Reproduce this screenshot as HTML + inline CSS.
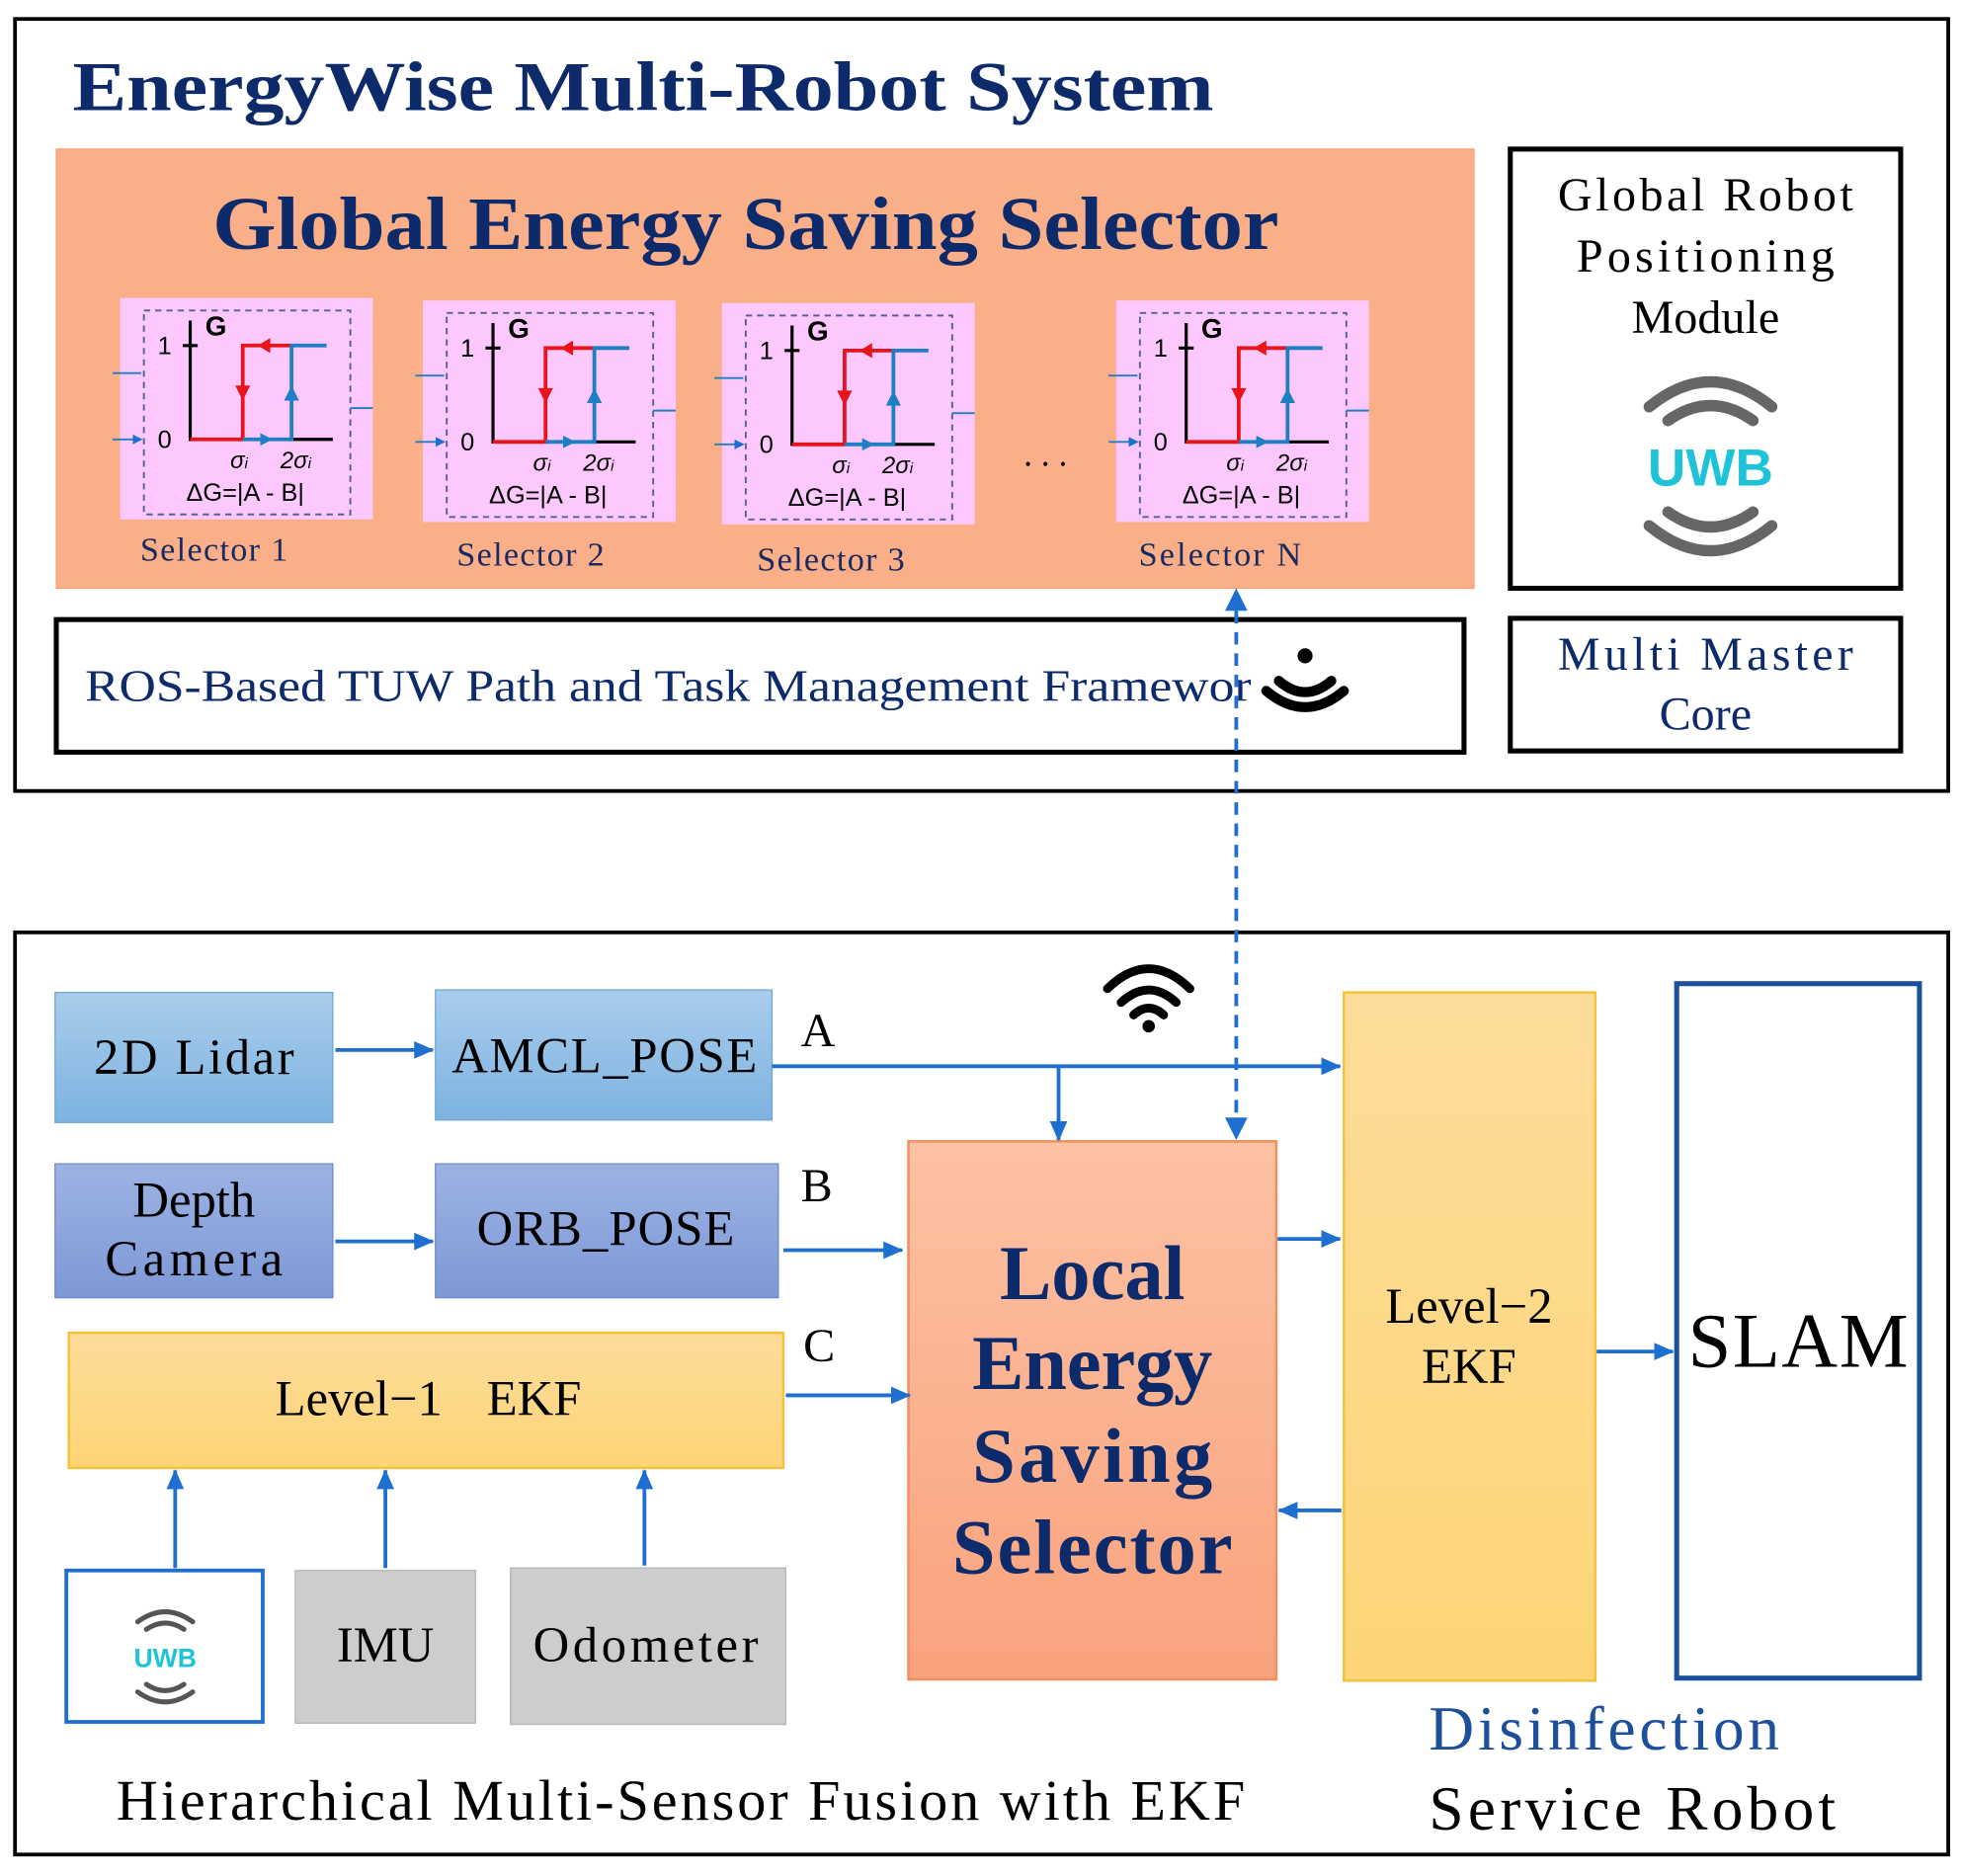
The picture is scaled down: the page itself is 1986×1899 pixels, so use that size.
<!DOCTYPE html>
<html><head><meta charset="utf-8"><style>html,body{margin:0;padding:0;background:#fff}svg{display:block}</style></head><body>
<svg width="1986" height="1899" viewBox="0 0 1568 1499" xmlns="http://www.w3.org/2000/svg" font-family="Liberation Serif, serif">
<defs>
<marker id="ab" markerWidth="8" markerHeight="8" refX="7" refY="4" orient="auto" markerUnits="userSpaceOnUse"><path d="M0,0 L8,4 L0,8 z" fill="#1f6fd0"/></marker>
<marker id="ab2" markerWidth="16" markerHeight="14" refX="15" refY="7" orient="auto" markerUnits="userSpaceOnUse"><path d="M0,0 L16,7 L0,14 z" fill="#1f6fd0"/></marker>
<linearGradient id="gl" x1="0" y1="0" x2="0" y2="1"><stop offset="0" stop-color="#a9cdec"/><stop offset="1" stop-color="#7db2e0"/></linearGradient>
<linearGradient id="gd" x1="0" y1="0" x2="0" y2="1"><stop offset="0" stop-color="#9db3e3"/><stop offset="1" stop-color="#7d98d6"/></linearGradient>
<linearGradient id="gy" x1="0" y1="0" x2="0" y2="1"><stop offset="0" stop-color="#fddc9a"/><stop offset="1" stop-color="#fdd577"/></linearGradient>
<linearGradient id="go" x1="0" y1="0" x2="0" y2="1"><stop offset="0" stop-color="#fdc1a3"/><stop offset="1" stop-color="#f9a27d"/></linearGradient>
</defs>
<rect x="12" y="15" width="1545" height="617" fill="none" stroke="#000" stroke-width="3"/>
<text x="58" y="88" font-size="56" font-weight="bold" fill="#0d2a6b" textLength="912" lengthAdjust="spacingAndGlyphs">EnergyWise Multi-Robot System</text>
<rect x="45" y="119" width="1133" height="351" fill="#fbaf88" stroke="#f6a273"/>
<text x="170" y="199" font-size="60" font-weight="bold" fill="#0d2a6b" textLength="852" lengthAdjust="spacingAndGlyphs">Global Energy Saving Selector</text>

<g font-family="Liberation Sans, sans-serif">
<g transform="translate(96,238)">
<rect width="202" height="177" fill="#fdc8fd"/><rect x="19" y="10" width="165" height="163" fill="none" stroke="#55609a" stroke-width="1.5" stroke-dasharray="5,4"/>
<path d="M56,18 V113 H170 M50,38 H62" stroke="#000" stroke-width="2.5" fill="none"/>
<path d="M56,113 H98 V38 H137" stroke="#e8141c" stroke-width="3" fill="none"/>
<path d="M98,113 H137 V38 H165" stroke="#1f7fc4" stroke-width="3" fill="none"/>
<path d="M92,70 L98,82 L104,70z M120,32 L110,38 L120,44z" fill="#e8141c"/><path d="M112,108 L122,113 L112,118z M131,82 L137,70 L143,82z" fill="#1f7fc4"/>
<text x="30" y="45" font-size="20">1</text><text x="68" y="30" font-size="22" font-weight="bold">G</text><text x="30" y="120" font-size="20">0</text>
<text x="88" y="136" font-size="19" font-style="italic">σ<tspan font-size="12">i</tspan></text><text x="128" y="136" font-size="19" font-style="italic">2σ<tspan font-size="12">i</tspan></text>
<text x="100" y="162" font-size="20" text-anchor="middle">ΔG=|A - B|</text>
<path d="M-6,60 H17 M-6,113 H17" stroke="#1f7fc4" stroke-width="1.5" marker-end="url(#ab)"/><path d="M184,88 H202" stroke="#1f7fc4" stroke-width="1.5"/>
</g>
<g transform="translate(338,240)">
<rect width="202" height="177" fill="#fdc8fd"/><rect x="19" y="10" width="165" height="163" fill="none" stroke="#55609a" stroke-width="1.5" stroke-dasharray="5,4"/>
<path d="M56,18 V113 H170 M50,38 H62" stroke="#000" stroke-width="2.5" fill="none"/>
<path d="M56,113 H98 V38 H137" stroke="#e8141c" stroke-width="3" fill="none"/>
<path d="M98,113 H137 V38 H165" stroke="#1f7fc4" stroke-width="3" fill="none"/>
<path d="M92,70 L98,82 L104,70z M120,32 L110,38 L120,44z" fill="#e8141c"/><path d="M112,108 L122,113 L112,118z M131,82 L137,70 L143,82z" fill="#1f7fc4"/>
<text x="30" y="45" font-size="20">1</text><text x="68" y="30" font-size="22" font-weight="bold">G</text><text x="30" y="120" font-size="20">0</text>
<text x="88" y="136" font-size="19" font-style="italic">σ<tspan font-size="12">i</tspan></text><text x="128" y="136" font-size="19" font-style="italic">2σ<tspan font-size="12">i</tspan></text>
<text x="100" y="162" font-size="20" text-anchor="middle">ΔG=|A - B|</text>
<path d="M-6,60 H17 M-6,113 H17" stroke="#1f7fc4" stroke-width="1.5" marker-end="url(#ab)"/><path d="M184,88 H202" stroke="#1f7fc4" stroke-width="1.5"/>
</g>
<g transform="translate(577,242)">
<rect width="202" height="177" fill="#fdc8fd"/><rect x="19" y="10" width="165" height="163" fill="none" stroke="#55609a" stroke-width="1.5" stroke-dasharray="5,4"/>
<path d="M56,18 V113 H170 M50,38 H62" stroke="#000" stroke-width="2.5" fill="none"/>
<path d="M56,113 H98 V38 H137" stroke="#e8141c" stroke-width="3" fill="none"/>
<path d="M98,113 H137 V38 H165" stroke="#1f7fc4" stroke-width="3" fill="none"/>
<path d="M92,70 L98,82 L104,70z M120,32 L110,38 L120,44z" fill="#e8141c"/><path d="M112,108 L122,113 L112,118z M131,82 L137,70 L143,82z" fill="#1f7fc4"/>
<text x="30" y="45" font-size="20">1</text><text x="68" y="30" font-size="22" font-weight="bold">G</text><text x="30" y="120" font-size="20">0</text>
<text x="88" y="136" font-size="19" font-style="italic">σ<tspan font-size="12">i</tspan></text><text x="128" y="136" font-size="19" font-style="italic">2σ<tspan font-size="12">i</tspan></text>
<text x="100" y="162" font-size="20" text-anchor="middle">ΔG=|A - B|</text>
<path d="M-6,60 H17 M-6,113 H17" stroke="#1f7fc4" stroke-width="1.5" marker-end="url(#ab)"/><path d="M184,88 H202" stroke="#1f7fc4" stroke-width="1.5"/>
</g>
<g transform="translate(892,240)">
<rect width="202" height="177" fill="#fdc8fd"/><rect x="19" y="10" width="165" height="163" fill="none" stroke="#55609a" stroke-width="1.5" stroke-dasharray="5,4"/>
<path d="M56,18 V113 H170 M50,38 H62" stroke="#000" stroke-width="2.5" fill="none"/>
<path d="M56,113 H98 V38 H137" stroke="#e8141c" stroke-width="3" fill="none"/>
<path d="M98,113 H137 V38 H165" stroke="#1f7fc4" stroke-width="3" fill="none"/>
<path d="M92,70 L98,82 L104,70z M120,32 L110,38 L120,44z" fill="#e8141c"/><path d="M112,108 L122,113 L112,118z M131,82 L137,70 L143,82z" fill="#1f7fc4"/>
<text x="30" y="45" font-size="20">1</text><text x="68" y="30" font-size="22" font-weight="bold">G</text><text x="30" y="120" font-size="20">0</text>
<text x="88" y="136" font-size="19" font-style="italic">σ<tspan font-size="12">i</tspan></text><text x="128" y="136" font-size="19" font-style="italic">2σ<tspan font-size="12">i</tspan></text>
<text x="100" y="162" font-size="20" text-anchor="middle">ΔG=|A - B|</text>
<path d="M-6,60 H17 M-6,113 H17" stroke="#1f7fc4" stroke-width="1.5" marker-end="url(#ab)"/><path d="M184,88 H202" stroke="#1f7fc4" stroke-width="1.5"/>
</g>
</g>
<g font-size="27" fill="#1a2a60">
<text x="112" y="448" textLength="118">Selector 1</text><text x="365" y="452" textLength="118">Selector 2</text><text x="605" y="456" textLength="118">Selector 3</text><text x="910" y="452" textLength="130">Selector N</text>
</g>
<text x="818" y="372" font-size="28">. . .</text>

<rect x="1207" y="119" width="312" height="351" fill="#fff" stroke="#000" stroke-width="4"/>
<g font-size="38" fill="#000" text-anchor="middle"><text x="1363" y="168" textLength="236">Global Robot</text><text x="1363" y="217" textLength="206">Positioning</text><text x="1363" y="266">Module</text></g>
<path d="M1318,325 Q1367,285 1416,325 M1333,336 Q1367,312 1401,336" stroke="#666" stroke-width="9" fill="none" stroke-linecap="round"/>
<path d="M1318,420 Q1367,460 1416,420 M1333,409 Q1367,433 1401,409" stroke="#666" stroke-width="9" fill="none" stroke-linecap="round"/>
<text x="1367" y="388" font-size="42" font-weight="bold" fill="#1fc3d8" font-family="Liberation Sans, sans-serif" text-anchor="middle">UWB</text>

<rect x="45" y="495" width="1125" height="106" fill="#fff" stroke="#000" stroke-width="4"/>
<text x="68" y="560" font-size="36" fill="#0d2a6b" textLength="932" lengthAdjust="spacingAndGlyphs">ROS-Based TUW Path and Task Management Framewor</text>
<g fill="none" stroke="#000" stroke-width="8" stroke-linecap="round"><path d="M1012,552 Q1043,578 1074,552"/><path d="M1022,544 Q1043,562 1064,544"/></g>
<circle cx="1043" cy="524" r="6" fill="#000"/>
<rect x="1207" y="494" width="312" height="106" fill="#fff" stroke="#000" stroke-width="4"/>
<g font-size="38" fill="#0d2a6b" text-anchor="middle"><text x="1363" y="535" textLength="236">Multi Master</text><text x="1363" y="583">Core</text></g>

<rect x="12" y="745" width="1545" height="737" fill="none" stroke="#000" stroke-width="3"/>
<rect x="44" y="793" width="222" height="104" fill="url(#gl)" stroke="#6fa6d6"/>
<text x="155" y="858" font-size="40" text-anchor="middle" textLength="160">2D Lidar</text>
<rect x="348" y="791" width="269" height="104" fill="url(#gl)" stroke="#6fa6d6"/>
<text x="483" y="857" font-size="40" text-anchor="middle" textLength="244">AMCL_POSE</text>
<rect x="44" y="930" width="222" height="107" fill="url(#gd)" stroke="#6c88c8"/>
<text x="155" y="972" font-size="40" text-anchor="middle">Depth</text><text x="155" y="1019" font-size="40" text-anchor="middle" textLength="142">Camera</text>
<rect x="348" y="930" width="274" height="107" fill="url(#gd)" stroke="#6c88c8"/>
<text x="484" y="995" font-size="40" text-anchor="middle" textLength="206">ORB_POSE</text>
<rect x="55" y="1065" width="571" height="108" fill="url(#gy)" stroke="#f5c23b" stroke-width="2"/>
<text x="220" y="1131" font-size="40">Level−1</text><text x="389" y="1131" font-size="40">EKF</text>
<rect x="53" y="1255" width="157" height="121" fill="#fff" stroke="#1f6fd0" stroke-width="3"/>
<path d="M110,1296 Q132,1280 154,1296 M117,1302 Q132,1292 147,1302" stroke="#555" stroke-width="4" fill="none" stroke-linecap="round"/>
<path d="M110,1352 Q132,1368 154,1352 M117,1346 Q132,1356 147,1346" stroke="#555" stroke-width="4" fill="none" stroke-linecap="round"/>
<text x="132" y="1332" font-size="21" font-weight="bold" fill="#1fc3d8" font-family="Liberation Sans, sans-serif" text-anchor="middle">UWB</text>
<rect x="236" y="1255" width="144" height="122" fill="#cdcdcd" stroke="#b5b5b5"/>
<text x="308" y="1328" font-size="40" text-anchor="middle">IMU</text>
<rect x="408" y="1253" width="220" height="125" fill="#cdcdcd" stroke="#b5b5b5"/>
<text x="516" y="1328" font-size="40" text-anchor="middle" textLength="180">Odometer</text>
<rect x="726" y="912" width="294" height="430" fill="url(#go)" stroke="#f0905e" stroke-width="2"/>
<g font-size="62" font-weight="bold" fill="#0d2a6b" text-anchor="middle"><text x="873" y="1038">Local</text><text x="873" y="1110" textLength="192">Energy</text><text x="873" y="1184" textLength="192">Saving</text><text x="873" y="1257" textLength="224">Selector</text></g>
<rect x="1074" y="793" width="201" height="550" fill="url(#gy)" stroke="#f5c23b" stroke-width="2"/>
<text x="1174" y="1057" font-size="40" text-anchor="middle">Level−2</text><text x="1174" y="1105" font-size="40" text-anchor="middle">EKF</text>
<rect x="1340" y="786" width="194" height="555" fill="#fff" stroke="#1c4f9c" stroke-width="4"/>
<text x="1437" y="1092" font-size="62" text-anchor="middle" textLength="176">SLAM</text>
<text x="1142" y="1398" font-size="50" fill="#1c4f9c" textLength="280">Disinfection</text>
<text x="1142" y="1462" font-size="50" textLength="325">Service Robot</text>
<text x="93" y="1454" font-size="46" textLength="902">Hierarchical Multi-Sensor Fusion with EKF</text>
<g font-size="38"><text x="640" y="836">A</text><text x="640" y="960">B</text><text x="642" y="1088">C</text></g>
<g fill="none" stroke="#000" stroke-width="7" stroke-linecap="round"><path d="M885,790 Q918,758 951,790"/><path d="M896,801 Q918,781 940,801"/><path d="M906,811 Q918,800 930,811"/></g>
<circle cx="918" cy="820" r="5" fill="#000"/>
<g stroke="#1f6fd0" stroke-width="3" fill="none">
<path d="M268,839 H346" marker-end="url(#ab2)"/>
<path d="M617,852 H1071" marker-end="url(#ab2)"/>
<path d="M846,852 V911" marker-end="url(#ab2)"/>
<path d="M268,992 H346" marker-end="url(#ab2)"/>
<path d="M626,999 H721" marker-end="url(#ab2)"/>
<path d="M628,1115 H727" marker-end="url(#ab2)"/>
<path d="M1021,990 H1071" marker-end="url(#ab2)"/>
<path d="M1072,1207 H1022" marker-end="url(#ab2)"/>
<path d="M1276,1080 H1337" marker-end="url(#ab2)"/>
<path d="M140,1253 V1175" marker-end="url(#ab2)"/>
<path d="M308,1253 V1175" marker-end="url(#ab2)"/>
<path d="M515,1251 V1175" marker-end="url(#ab2)"/>
<path d="M988,488 V908" stroke-dasharray="10,7"/>
</g>
<path d="M979,488 L988,470 L997,488z M979,893 L988,911 L997,893z" fill="#1f6fd0"/>
</svg>
</body></html>
